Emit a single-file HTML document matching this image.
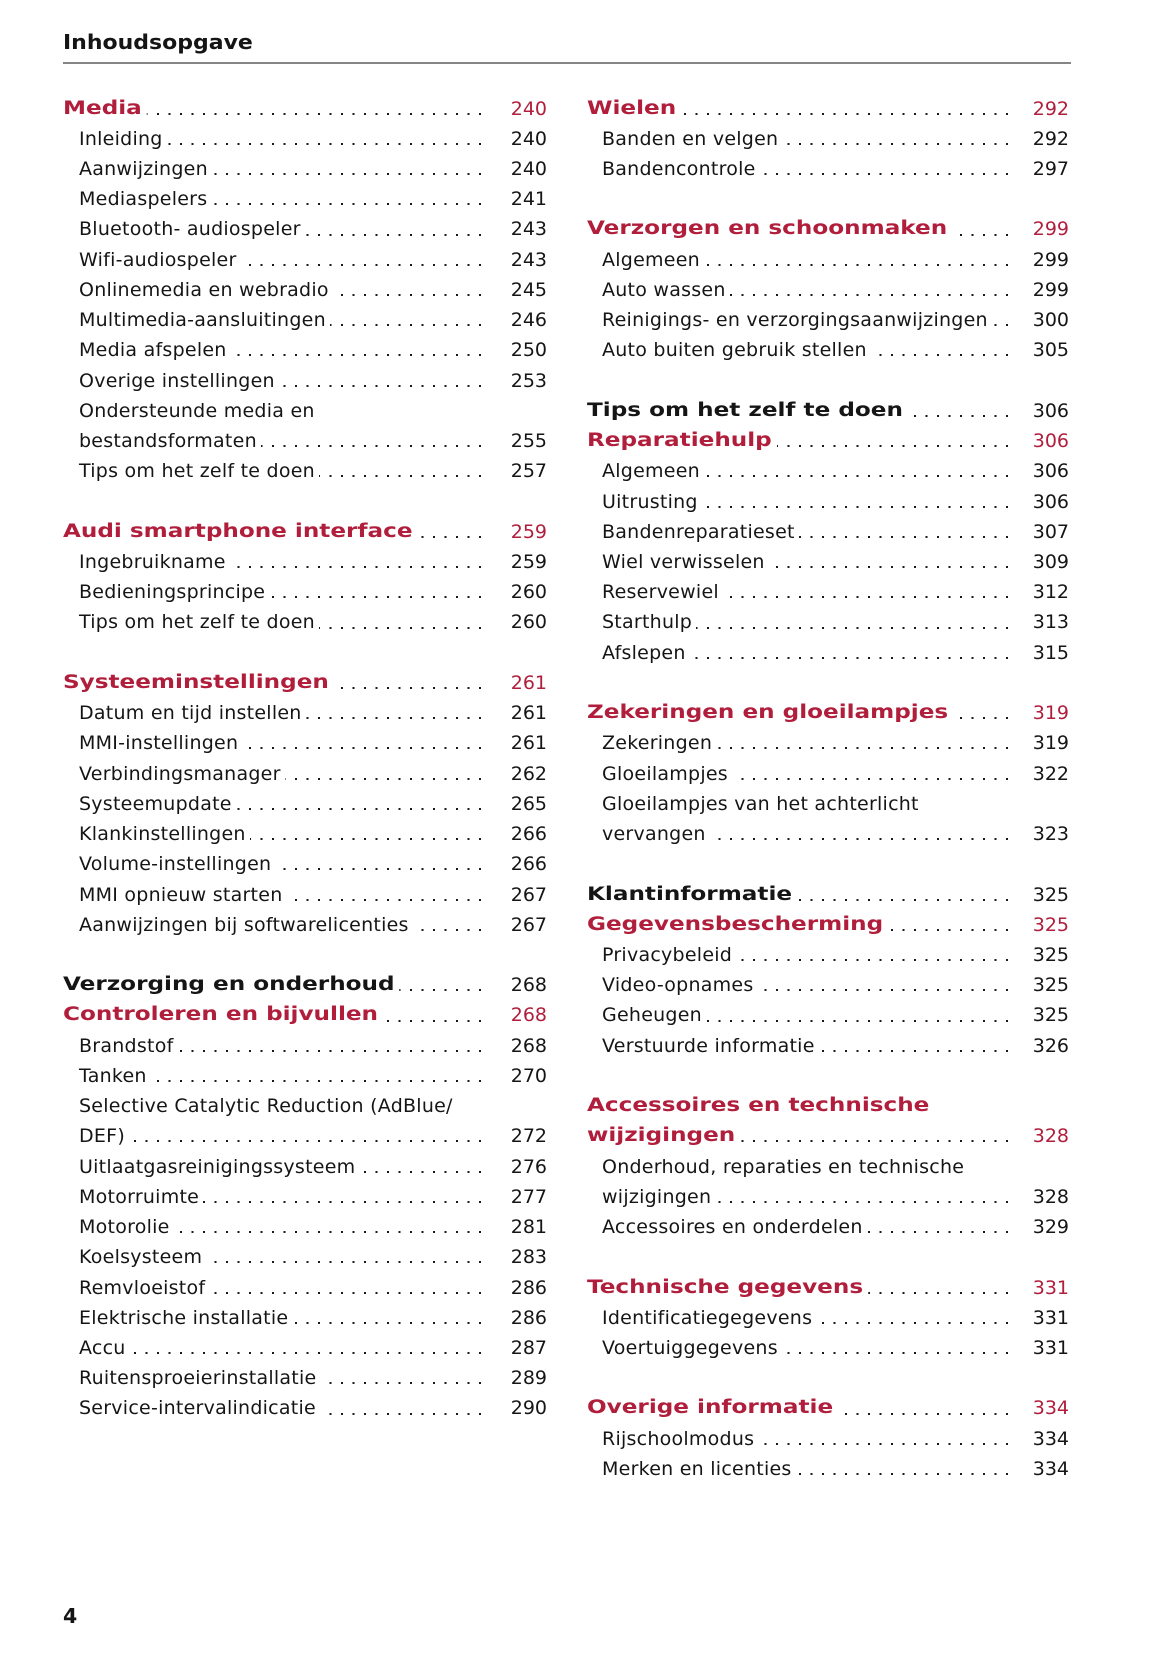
<!DOCTYPE html>
<html>
<head>
<meta charset="utf-8">
<style>
html,body{margin:0;padding:0;background:#fff;}
body{width:1165px;height:1653px;position:relative;overflow:hidden;font-family:"DejaVu Sans","Liberation Sans",sans-serif;color:#151515;}
.hd{position:absolute;left:63px;top:27px;font-weight:bold;font-size:20px;line-height:30px;transform:scaleX(1.1);transform-origin:0 0;color:#151515;white-space:nowrap;}
.rule{position:absolute;left:63px;top:62px;width:1008px;height:1.5px;background:#858585;}
.pg{position:absolute;left:63px;top:1601px;font-weight:bold;font-size:20.5px;line-height:30px;color:#151515;}
.r{position:absolute;height:30px;line-height:30px;font-size:19px;letter-spacing:.25px;white-space:nowrap;color:#151515;}
.L{left:63px;width:484px;}
.R{left:587px;width:482px;}
.d{position:absolute;left:0;top:19.2px;height:2.4px;background-image:linear-gradient(to right,transparent 9.3px,#1a1a1a 9.3px);background-size:11.5px 2.4px;background-repeat:repeat-x;background-position:right 0;}
.L .d{width:418px;}
.R .d{width:421px;}
.t{position:relative;display:inline-block;background:#fff;padding-right:4px;}
.s .t{padding-left:16px;}
.R.s .t{padding-left:15px;}
.h{font-size:18.5px;}
.h .t{font-weight:bold;letter-spacing:0;transform:scaleX(1.25);transform-origin:0 50%;}
.red{color:#b01e3c;}
.n{position:absolute;right:0;top:0;letter-spacing:0;font-size:19px;font-weight:normal;}
</style>
</head>
<body>
<div class="hd">Inhoudsopgave</div>
<div class="rule"></div>

<!-- LEFT COLUMN -->
<div class="r L h" style="top:93.5px"><span class="d"></span><span class="t red">Media</span><span class="n red">240</span></div>
<div class="r L s" style="top:123.7px"><span class="d"></span><span class="t">Inleiding</span><span class="n">240</span></div>
<div class="r L s" style="top:154px"><span class="d"></span><span class="t">Aanwijzingen</span><span class="n">240</span></div>
<div class="r L s" style="top:184.2px"><span class="d"></span><span class="t">Mediaspelers</span><span class="n">241</span></div>
<div class="r L s" style="top:214.4px"><span class="d"></span><span class="t">Bluetooth- audiospeler</span><span class="n">243</span></div>
<div class="r L s" style="top:244.7px"><span class="d"></span><span class="t">Wifi-audiospeler</span><span class="n">243</span></div>
<div class="r L s" style="top:274.9px"><span class="d"></span><span class="t">Onlinemedia en webradio</span><span class="n">245</span></div>
<div class="r L s" style="top:305.1px"><span class="d"></span><span class="t">Multimedia-aansluitingen</span><span class="n">246</span></div>
<div class="r L s" style="top:335.3px"><span class="d"></span><span class="t">Media afspelen</span><span class="n">250</span></div>
<div class="r L s" style="top:365.6px"><span class="d"></span><span class="t">Overige instellingen</span><span class="n">253</span></div>
<div class="r L s" style="top:395.8px"><span class="t">Ondersteunde media en</span></div>
<div class="r L s" style="top:426px"><span class="d"></span><span class="t">bestandsformaten</span><span class="n">255</span></div>
<div class="r L s" style="top:456.3px"><span class="d"></span><span class="t">Tips om het zelf te doen</span><span class="n">257</span></div>

<div class="r L h" style="top:516.7px"><span class="d"></span><span class="t red">Audi smartphone interface</span><span class="n red">259</span></div>
<div class="r L s" style="top:547px"><span class="d"></span><span class="t">Ingebruikname</span><span class="n">259</span></div>
<div class="r L s" style="top:577.2px"><span class="d"></span><span class="t">Bedieningsprincipe</span><span class="n">260</span></div>
<div class="r L s" style="top:607.4px"><span class="d"></span><span class="t">Tips om het zelf te doen</span><span class="n">260</span></div>

<div class="r L h" style="top:667.9px"><span class="d"></span><span class="t red">Systeeminstellingen</span><span class="n red">261</span></div>
<div class="r L s" style="top:698.1px"><span class="d"></span><span class="t">Datum en tijd instellen</span><span class="n">261</span></div>
<div class="r L s" style="top:728.3px"><span class="d"></span><span class="t">MMI-instellingen</span><span class="n">261</span></div>
<div class="r L s" style="top:758.6px"><span class="d"></span><span class="t">Verbindingsmanager</span><span class="n">262</span></div>
<div class="r L s" style="top:788.8px"><span class="d"></span><span class="t">Systeemupdate</span><span class="n">265</span></div>
<div class="r L s" style="top:819px"><span class="d"></span><span class="t">Klankinstellingen</span><span class="n">266</span></div>
<div class="r L s" style="top:849.3px"><span class="d"></span><span class="t">Volume-instellingen</span><span class="n">266</span></div>
<div class="r L s" style="top:879.5px"><span class="d"></span><span class="t">MMI opnieuw starten</span><span class="n">267</span></div>
<div class="r L s" style="top:909.7px"><span class="d"></span><span class="t">Aanwijzingen bij softwarelicenties</span><span class="n">267</span></div>

<div class="r L h" style="top:970.2px"><span class="d"></span><span class="t">Verzorging en onderhoud</span><span class="n">268</span></div>
<div class="r L h" style="top:1000.4px"><span class="d"></span><span class="t red">Controleren en bijvullen</span><span class="n red">268</span></div>
<div class="r L s" style="top:1030.6px"><span class="d"></span><span class="t">Brandstof</span><span class="n">268</span></div>
<div class="r L s" style="top:1060.9px"><span class="d"></span><span class="t">Tanken</span><span class="n">270</span></div>
<div class="r L s" style="top:1091.1px"><span class="t">Selective Catalytic Reduction (AdBlue/</span></div>
<div class="r L s" style="top:1121.3px"><span class="d"></span><span class="t">DEF)</span><span class="n">272</span></div>
<div class="r L s" style="top:1151.6px"><span class="d"></span><span class="t">Uitlaatgasreinigingssysteem</span><span class="n">276</span></div>
<div class="r L s" style="top:1181.8px"><span class="d"></span><span class="t">Motorruimte</span><span class="n">277</span></div>
<div class="r L s" style="top:1212px"><span class="d"></span><span class="t">Motorolie</span><span class="n">281</span></div>
<div class="r L s" style="top:1242.2px"><span class="d"></span><span class="t">Koelsysteem</span><span class="n">283</span></div>
<div class="r L s" style="top:1272.5px"><span class="d"></span><span class="t">Remvloeistof</span><span class="n">286</span></div>
<div class="r L s" style="top:1302.7px"><span class="d"></span><span class="t">Elektrische installatie</span><span class="n">286</span></div>
<div class="r L s" style="top:1332.9px"><span class="d"></span><span class="t">Accu</span><span class="n">287</span></div>
<div class="r L s" style="top:1363.2px"><span class="d"></span><span class="t">Ruitensproeierinstallatie</span><span class="n">289</span></div>
<div class="r L s" style="top:1393.4px"><span class="d"></span><span class="t">Service-intervalindicatie</span><span class="n">290</span></div>

<!-- RIGHT COLUMN -->
<div class="r R h" style="top:93.5px"><span class="d"></span><span class="t red">Wielen</span><span class="n red">292</span></div>
<div class="r R s" style="top:123.7px"><span class="d"></span><span class="t">Banden en velgen</span><span class="n">292</span></div>
<div class="r R s" style="top:154px"><span class="d"></span><span class="t">Bandencontrole</span><span class="n">297</span></div>

<div class="r R h" style="top:214.4px"><span class="d"></span><span class="t red">Verzorgen en schoonmaken</span><span class="n red">299</span></div>
<div class="r R s" style="top:244.7px"><span class="d"></span><span class="t">Algemeen</span><span class="n">299</span></div>
<div class="r R s" style="top:274.9px"><span class="d"></span><span class="t">Auto wassen</span><span class="n">299</span></div>
<div class="r R s" style="top:305.1px"><span class="d"></span><span class="t">Reinigings- en verzorgingsaanwijzingen</span><span class="n">300</span></div>
<div class="r R s" style="top:335.3px"><span class="d"></span><span class="t">Auto buiten gebruik stellen</span><span class="n">305</span></div>

<div class="r R h" style="top:395.8px"><span class="d"></span><span class="t">Tips om het zelf te doen</span><span class="n">306</span></div>
<div class="r R h" style="top:426px"><span class="d"></span><span class="t red">Reparatiehulp</span><span class="n red">306</span></div>
<div class="r R s" style="top:456.3px"><span class="d"></span><span class="t">Algemeen</span><span class="n">306</span></div>
<div class="r R s" style="top:486.5px"><span class="d"></span><span class="t">Uitrusting</span><span class="n">306</span></div>
<div class="r R s" style="top:516.7px"><span class="d"></span><span class="t">Bandenreparatieset</span><span class="n">307</span></div>
<div class="r R s" style="top:547px"><span class="d"></span><span class="t">Wiel verwisselen</span><span class="n">309</span></div>
<div class="r R s" style="top:577.2px"><span class="d"></span><span class="t">Reservewiel</span><span class="n">312</span></div>
<div class="r R s" style="top:607.4px"><span class="d"></span><span class="t">Starthulp</span><span class="n">313</span></div>
<div class="r R s" style="top:637.6px"><span class="d"></span><span class="t">Afslepen</span><span class="n">315</span></div>

<div class="r R h" style="top:698.1px"><span class="d"></span><span class="t red">Zekeringen en gloeilampjes</span><span class="n red">319</span></div>
<div class="r R s" style="top:728.3px"><span class="d"></span><span class="t">Zekeringen</span><span class="n">319</span></div>
<div class="r R s" style="top:758.6px"><span class="d"></span><span class="t">Gloeilampjes</span><span class="n">322</span></div>
<div class="r R s" style="top:788.8px"><span class="t">Gloeilampjes van het achterlicht</span></div>
<div class="r R s" style="top:819px"><span class="d"></span><span class="t">vervangen</span><span class="n">323</span></div>

<div class="r R h" style="top:879.5px"><span class="d"></span><span class="t">Klantinformatie</span><span class="n">325</span></div>
<div class="r R h" style="top:909.7px"><span class="d"></span><span class="t red">Gegevensbescherming</span><span class="n red">325</span></div>
<div class="r R s" style="top:939.9px"><span class="d"></span><span class="t">Privacybeleid</span><span class="n">325</span></div>
<div class="r R s" style="top:970.2px"><span class="d"></span><span class="t">Video-opnames</span><span class="n">325</span></div>
<div class="r R s" style="top:1000.4px"><span class="d"></span><span class="t">Geheugen</span><span class="n">325</span></div>
<div class="r R s" style="top:1030.6px"><span class="d"></span><span class="t">Verstuurde informatie</span><span class="n">326</span></div>

<div class="r R h" style="top:1091.1px"><span class="t red">Accessoires en technische</span></div>
<div class="r R h" style="top:1121.3px"><span class="d"></span><span class="t red">wijzigingen</span><span class="n red">328</span></div>
<div class="r R s" style="top:1151.6px"><span class="t">Onderhoud, reparaties en technische</span></div>
<div class="r R s" style="top:1181.8px"><span class="d"></span><span class="t">wijzigingen</span><span class="n">328</span></div>
<div class="r R s" style="top:1212px"><span class="d"></span><span class="t">Accessoires en onderdelen</span><span class="n">329</span></div>

<div class="r R h" style="top:1272.5px"><span class="d"></span><span class="t red">Technische gegevens</span><span class="n red">331</span></div>
<div class="r R s" style="top:1302.7px"><span class="d"></span><span class="t">Identificatiegegevens</span><span class="n">331</span></div>
<div class="r R s" style="top:1332.9px"><span class="d"></span><span class="t">Voertuiggegevens</span><span class="n">331</span></div>

<div class="r R h" style="top:1393.4px"><span class="d"></span><span class="t red">Overige informatie</span><span class="n red">334</span></div>
<div class="r R s" style="top:1423.6px"><span class="d"></span><span class="t">Rijschoolmodus</span><span class="n">334</span></div>
<div class="r R s" style="top:1453.9px"><span class="d"></span><span class="t">Merken en licenties</span><span class="n">334</span></div>

<div class="pg">4</div>
</body>
</html>
